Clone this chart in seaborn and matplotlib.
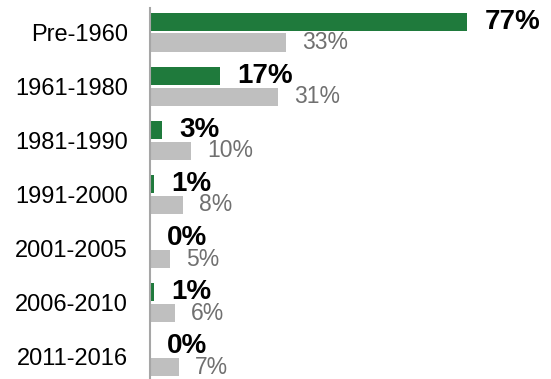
import matplotlib
matplotlib.use("Agg")
import matplotlib.pyplot as plt
import pandas as pd
import seaborn as sns

periods = ["Pre-1960", "1961-1980", "1981-1990", "1991-2000",
           "2001-2005", "2006-2010", "2011-2016"]
portfolio = [77, 17, 3, 1, 0, 1, 0]
benchmark = [33, 31, 10, 8, 5, 6, 7]
series_names = ["Portfolio", "Benchmark"]

green = "#1F7A3C"
grey = "#BFBFBF"

df = pd.DataFrame({
    "period": periods * 2,
    "share": portfolio + benchmark,
    "series": [series_names[0]] * len(periods) + [series_names[1]] * len(periods),
})

sns.set_theme(style="white")
plt.rcParams["font.family"] = ["Liberation Sans", "DejaVu Sans"]

fig = plt.figure(figsize=(5.51, 3.79), dpi=100)
ax = fig.add_axes([0.272, 0.0, 0.728, 0.979])

sns.barplot(data=df, y="period", x="share", hue="series", order=periods,
            hue_order=series_names, palette=[green, grey], orient="h",
            width=0.77, gap=0.127, dodge=True, legend=False, ax=ax,
            saturation=1, edgecolor="none", linewidth=0)

ax.set_xlim(0, 97.3)
ax.set_ylim(6.41, -0.447)

ax.bar_label(ax.containers[0], labels=[f"{v}%" for v in portfolio],
             padding=12.2, fontsize=20, fontweight="bold", color="black")
ax.bar_label(ax.containers[1], labels=[f"{v}%" for v in benchmark],
             padding=11.5, fontsize=16.5, color="#707070")

for side in ["top", "right", "bottom"]:
    ax.spines[side].set_visible(False)
ax.spines["left"].set_color("#A6A6A6")
ax.spines["left"].set_linewidth(1.5)

ax.set_xticks([])
ax.set_xlabel("")
ax.set_ylabel("")
ax.tick_params(axis="y", length=0, pad=15.8, labelsize=17, labelcolor="black")

fig.savefig("out.png", dpi=100)
